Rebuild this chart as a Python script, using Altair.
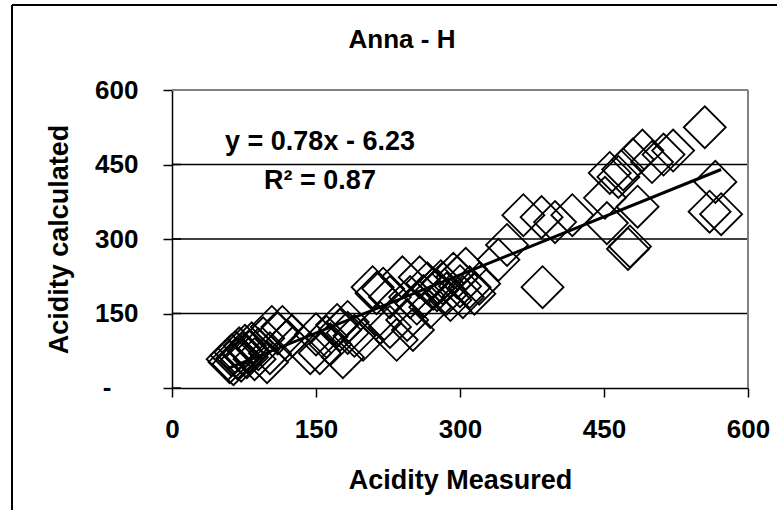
import altair as alt
import pandas as pd

# ---- data ----
measured = [58, 60, 62, 64, 66, 68, 70, 72, 74, 76, 78, 80, 83, 86, 90, 95, 99, 102,
            104, 110, 115, 120, 125,
            144, 150, 154, 161, 165, 172, 175, 178, 183, 183, 190,
            199, 209, 213, 217, 220, 227, 227, 234, 240, 245, 248, 251, 255, 258, 262, 266,
            269, 272, 276, 280, 282, 286, 290, 293, 297, 300, 303, 306, 310, 315, 320,
            340, 349, 366, 385, 386, 399, 417,
            451, 453, 456, 465, 470, 475, 477, 480, 485, 490, 500, 512, 522, 555, 560, 566, 572]
calculated = [58, 52, 66, 48, 72, 60, 80, 55, 68, 85, 62, 74, 90, 58, 78, 100, 52, 70,
              123, 110, 123, 95, 105,
              70, 108, 70, 103, 88, 127, 117, 62, 111, 133, 105,
              97, 203, 191, 131, 200, 123, 183, 97, 223, 137, 183, 117, 170, 223, 185, 211,
              163, 200, 197, 215, 211, 190, 177, 230, 223, 205, 183, 240, 203, 190, 210,
              258, 288, 348, 344, 203, 334, 348,
              383, 332, 433, 425, 440, 280, 285, 460, 365, 478, 455, 470, 478, 525, 355, 415, 350]

x_ticks = [0, 150, 300, 450, 600]
y_ticks = [0, 150, 300, 450, 600]
grid_values = [150, 300, 450]
zero_label = "-"
slope = 0.78
intercept = -6.23

title_text = "Anna - H"
eq_text = "y = 0.78x - 6.23"
r2_text = "R\u00b2 = 0.87"
x_title = "Acidity Measured"
y_title = "Acidity calculated"

# ---- layout ----
W, H = 576, 298
FONT = "Liberation Sans"
FS = 26
TFS = 27

pts = pd.DataFrame({"m": measured, "c": calculated})
x_lo, x_hi = min(measured), max(measured)
trend = pd.DataFrame({"m": [x_lo, x_hi],
                      "c": [slope * x_lo + intercept, slope * x_hi + intercept]})
grid_df = pd.DataFrame({"g": grid_values})
tick_df = pd.DataFrame({"t": y_ticks})
zero_df = pd.DataFrame({"v": [0], "t": [zero_label]})
one = pd.DataFrame({"k": [0]})

xs = alt.Scale(domain=[0, 600], nice=False, zero=False)
ys = alt.Scale(domain=[0, 600], nice=False, zero=False)

x_axis = alt.Axis(values=x_ticks, title=x_title, grid=False, tickSize=9,
                  tickColor="black", tickWidth=1.5, domainColor="black", domainWidth=1.5,
                  labelFont=FONT, labelFontSize=FS, labelFontWeight="bold",
                  labelColor="black", labelPadding=19, labelFlush=False,
                  labelOverlap=False, titleFont=FONT, titleFontSize=TFS,
                  titleFontWeight="bold", titleColor="black", titlePadding=25,
                  format="d")
y_axis = alt.Axis(values=y_ticks, title=y_title, grid=False, tickSize=9,
                  tickColor="black", tickWidth=1.5, domainColor="black", domainWidth=1.5,
                  labelFont=FONT, labelFontSize=FS, labelFontWeight="bold",
                  labelColor="black", labelPadding=25, labelFlush=False,
                  labelOverlap=False,
                  labelExpr="datum.value == 0 ? '' : datum.label",
                  titleFont=FONT, titleFontSize=TFS, titleFontWeight="bold",
                  titleColor="black", titlePadding=21, format="d")

base_x = alt.X("m:Q", scale=xs, axis=x_axis)
base_y = alt.Y("c:Q", scale=ys, axis=y_axis)

grid = alt.Chart(grid_df).mark_rule(color="black", strokeWidth=1.5).encode(
    y=alt.Y("g:Q", scale=ys), x=alt.value(0), x2=alt.value(W))

inner_ticks = alt.Chart(tick_df).mark_rule(color="black", strokeWidth=1.5).encode(
    y=alt.Y("t:Q", scale=ys), x=alt.value(0), x2=alt.value(9))

zero_text = alt.Chart(zero_df).mark_text(
    font=FONT, fontSize=FS, fontWeight="bold", color="black",
    align="center", baseline="middle").encode(
    text="t:N", y=alt.Y("v:Q", scale=ys), x=alt.value(-65))

top_border = alt.Chart(one).mark_rule(color="#808080", strokeWidth=2).encode(
    x=alt.value(0), x2=alt.value(W), y=alt.value(0))
right_border = alt.Chart(one).mark_rule(color="#808080", strokeWidth=2).encode(
    x=alt.value(W), y=alt.value(0), y2=alt.value(H))

frame_top = alt.Chart(one).mark_rule(color="black", strokeWidth=2).encode(
    x=alt.value(-160), x2=alt.value(605), y=alt.value(-85))
frame_left = alt.Chart(one).mark_rule(color="black", strokeWidth=2).encode(
    x=alt.value(-160), y=alt.value(-85), y2=alt.value(420))

points = alt.Chart(pts).mark_point(shape="diamond", size=1764, filled=False,
                                   color="black", strokeWidth=1.8, opacity=1).encode(
    x=base_x, y=base_y)

line = alt.Chart(trend).mark_line(color="black", strokeWidth=3).encode(
    x=alt.X("m:Q", scale=xs), y=alt.Y("c:Q", scale=ys))

title = alt.Chart(pd.DataFrame({"t": [title_text]})).mark_text(
    font=FONT, fontSize=FS, fontWeight="bold", color="black",
    align="center", baseline="middle").encode(
    text="t:N", x=alt.value(230), y=alt.value(-50))

eq = alt.Chart(pd.DataFrame({"t": [eq_text]})).mark_text(
    font=FONT, fontSize=TFS, fontWeight="bold", color="black",
    align="center", baseline="middle").encode(
    text="t:N", x=alt.value(148), y=alt.value(52))

r2 = alt.Chart(pd.DataFrame({"t": [r2_text]})).mark_text(
    font=FONT, fontSize=TFS, fontWeight="bold", color="black",
    align="center", baseline="middle").encode(
    text="t:N", x=alt.value(148), y=alt.value(91))

chart = alt.layer(grid, inner_ticks, top_border, right_border, points, line,
                  frame_top, frame_left, zero_text, title, eq, r2).properties(
    width=W, height=H,
    autosize=alt.AutoSizeParams(type="none"),
    padding={"left": 172, "top": 90, "right": 29, "bottom": 122},
    background="white",
).configure_view(stroke=None)

chart.save("out.html", embed_options={"renderer": "svg", "actions": False})
